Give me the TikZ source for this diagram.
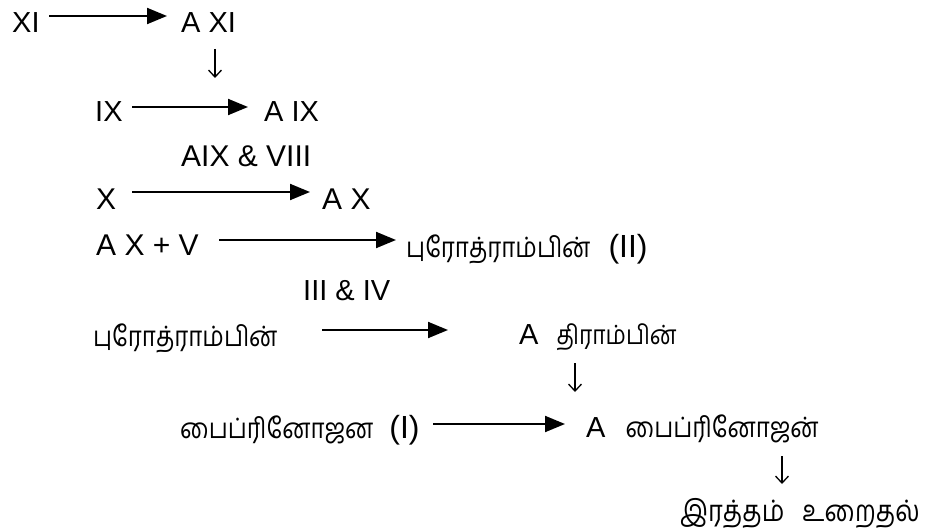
\documentclass[tikz,border=0pt]{standalone}
\usepackage{fontspec}
\setmainfont{Liberation Sans}
\newfontfamily\ta[Script=Tamil,FakeStretch=0.86]{Hind Madurai}
\usetikzlibrary{arrows.meta}
\newcommand{\lfont}{\fontsize{30}{32}\selectfont}
\newcommand{\sfont}{\fontsize{29}{31}\selectfont}
\newcommand{\pfont}{\fontsize{32}{34}\selectfont}
\newcommand{\tfont}{\fontsize{28}{32}\ta}
\begin{document}
\begin{tikzpicture}[x=1pt,y=-1pt,
  lbl/.style={inner sep=0pt, anchor=base west, font=\lfont},
  slbl/.style={lbl, font=\sfont},
  tam/.style={inner sep=0pt, anchor=base west, font=\tfont},
  arr/.style={line width=2pt, -{Triangle[length=20pt,width=16pt]}},
  darr/.style={line width=1.3pt, -{Straight Barb[length=7pt,width=13pt]}}]
\useasboundingbox[fill=white] (0,0) rectangle (935,532);
% row 1
\node[slbl] (xi) at (12,33) {XI};
\node[slbl] (axi) at (181,33) {A XI};
\draw[arr] ([yshift=17pt]xi.base -| 49,0) -- ([yshift=17pt]axi.base -| 167,0);
\coordinate (d1a) at (215,49);
\coordinate (d1b) at (215,78);
\draw[darr] (d1a) -- (d1b);
% row 2
\node[slbl] (ix) at (95,122) {IX};
\node[slbl] (aix) at (264,122) {A IX};
\draw[arr] ([yshift=15pt]ix.base -| 132,0) -- ([yshift=15pt]aix.base -| 248,0);
% row 3
\node[lbl] (lab1) at (181,167) {AIX \& VIII};
\node[lbl] (x) at (96,210) {X};
\node[lbl] (ax) at (322,210) {A X};
\draw[arr] ([yshift=18pt]x.base -| 132,0) -- ([yshift=18pt]ax.base -| 310,0);
% row 4
\node[tam] (pro2) at (406,257) {புரோத்ராம்பின்\hspace{18pt}{\rmfamily\pfont(II)}};
\node[lbl] (axv) at (96,255) {A X + V};
\draw[arr] ([yshift=15pt]axv.base -| 219,0) -- ([yshift=15pt]axv.base -| 396,0);
% row 5
\node[slbl] (lab2) at (303,300) {III \& IV};
\node[tam] (pro) at (93,346) {புரோத்ராம்பின்};
\node[slbl] (thr) at (519,344) {A\hspace{18pt}{\fontsize{26.5}{30}\ta திராம்பின்}};
\draw[arr] ([yshift=14pt]thr.base -| 322,0) -- ([yshift=14pt]thr.base -| 448,0);
\coordinate (d2a) at (575,363);
\coordinate (d2b) at (575,392);
\draw[darr] (d2a) -- (d2b);
% row 6
\node[tam] (fib) at (180,438) {பைப்ரினோஜன\hspace{16pt}{\rmfamily\pfont(I)}};
\node[slbl] (afib) at (586,437) {A\hspace{20pt}{\tfont பைப்ரினோஜன்}};
\draw[arr] ([yshift=13pt]afib.base -| 433,0) -- ([yshift=13pt]afib.base -| 565,0);
\coordinate (d3a) at (782,456);
\coordinate (d3b) at (782,484);
\draw[darr] (d3a) -- (d3b);
% row 7
\node[tam, font=\fontsize{29.5}{34}\ta, text depth=0pt] (blood) at (680,521) {இரத்தம்\hspace{18pt}உறைதல்};
\end{tikzpicture}
\end{document}
